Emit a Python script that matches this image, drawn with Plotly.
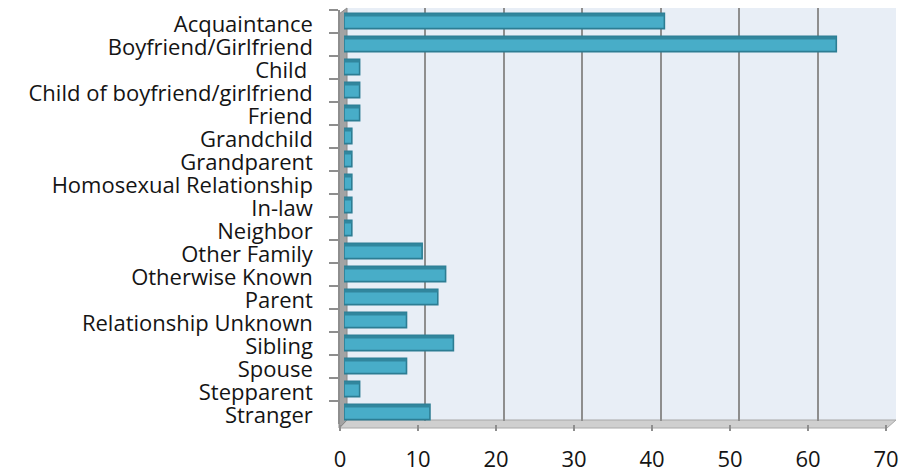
import plotly.graph_objects as go

categories = ["Acquaintance", "Boyfriend/Girlfriend", "Child ", "Child of boyfriend/girlfriend",
              "Friend", "Grandchild", "Grandparent", "Homosexual Relationship", "In-law",
              "Neighbor", "Other Family", "Otherwise Known", "Parent", "Relationship Unknown",
              "Sibling", "Spouse", "Stepparent", "Stranger"]
values = [41, 63, 2, 2, 2, 1, 1, 1, 1, 1, 10, 13, 12, 8, 14, 8, 2, 11]
x_ticks = [0, 10, 20, 30, 40, 50, 60, 70]

W, H = 903, 472
def px(x): return x / W
def py(y): return 1 - y / H

FONT = "Open Sans"
TXT = "#141414"
n = len(categories)
cat_range = [n - 0.5, -0.5]   # reversed: first category on top
fig = go.Figure()

# subplot 1: back wall gridlines
fig.add_trace(go.Scatter(x=values, y=categories, mode="markers", marker=dict(opacity=0),
                         hoverinfo="skip", showlegend=False, xaxis="x", yaxis="y"))
# subplot 2: front axes with labels
fig.add_trace(go.Scatter(x=values, y=categories, mode="markers", marker=dict(opacity=0),
                         hoverinfo="skip", showlegend=False, xaxis="x2", yaxis="y2"))
# subplot 3: bars
fig.add_trace(go.Bar(x=values, y=categories, orientation="h", width=0.66,
                     marker=dict(color="#48adc8", line=dict(color="#2c7d93", width=1.6)),
                     showlegend=False, xaxis="x3", yaxis="y3"))
fig.add_trace(go.Bar(x=values, y=categories, orientation="h", width=0.13, offset=-0.33,
                     marker=dict(color="#31869d", line=dict(width=0)),
                     showlegend=False, xaxis="x3", yaxis="y3"))

grid_x_dom = [px(347), px(896)]
grid_y_dom = [py(421), py(8)]
front_x_dom = [px(340), px(886)]
rows_y_dom = [py(423.5), py(9.5)]
bar_x_dom = [px(344), px(891)]

shapes = [
    # back wall
    dict(type="rect", xref="paper", yref="paper", x0=px(347), x1=px(896), y0=py(421), y1=py(8),
         fillcolor="#e8eef6", line=dict(width=0), layer="below"),
    # floor
    dict(type="path", xref="paper", yref="paper",
         path=f"M {px(340)},{py(428)} L {px(347)},{py(420)} L {px(896)},{py(420)} L {px(887)},{py(428)} Z",
         fillcolor="#cfcfcf", line=dict(color="#a8a8a8", width=1), layer="below"),
    # left wall
    dict(type="path", xref="paper", yref="paper",
         path=f"M {px(339)},{py(14)} L {px(347)},{py(8)} L {px(347)},{py(420)} L {px(339)},{py(428)} Z",
         fillcolor="#a3a3a3", line=dict(color="#8a8a8a", width=1), layer="below"),
]

fig.update_layout(
    width=W, height=H, autosize=False,
    margin=dict(l=0, r=0, t=0, b=0, pad=0, autoexpand=False),
    paper_bgcolor="white",
    plot_bgcolor="rgba(0,0,0,0)",
    barmode="overlay",
    font=dict(family=FONT, size=22, color=TXT),
    shapes=shapes,
    xaxis=dict(domain=grid_x_dom, range=[0, 70], tickvals=x_ticks[1:], showticklabels=False,
               showgrid=True, gridcolor="#8e8e8e", gridwidth=2, zeroline=False, showline=False,
               anchor="y", fixedrange=True, automargin=False),
    yaxis=dict(domain=grid_y_dom, type="category", categoryarray=categories, categoryorder="array",
               range=cat_range, showticklabels=False, showgrid=False, zeroline=False,
               showline=False, anchor="x", automargin=False),
    xaxis2=dict(domain=front_x_dom, range=[0, 70], tickmode="array", tickvals=x_ticks,
                showgrid=False, zeroline=False, automargin=False,
                showline=False, ticks="outside", ticklen=6, tickwidth=1.5, tickcolor="#8e8e8e",
                ticklabelstandoff=10, tickfont=dict(family=FONT, size=22, color=TXT), anchor="y2"),
    yaxis2=dict(domain=rows_y_dom, type="category", categoryarray=categories, categoryorder="array",
                tickmode="linear", tick0=0, dtick=1, automargin=False, range=cat_range,
                showgrid=False, zeroline=False, showline=True,
                linecolor="#8e8e8e", linewidth=1.5, ticks="outside", ticklen=9, tickwidth=1.5,
                tickcolor="#8e8e8e", tickson="boundaries", ticklabelstandoff=21,
                ticklabelshift=-3,
                tickfont=dict(family=FONT, size=22, color=TXT), anchor="x2"),
    xaxis3=dict(domain=bar_x_dom, range=[0, 70], showgrid=False, zeroline=False, showline=False,
                showticklabels=False, anchor="y3", automargin=False),
    yaxis3=dict(domain=rows_y_dom, type="category", categoryarray=categories, categoryorder="array",
                range=cat_range, showgrid=False, zeroline=False, showline=False,
                showticklabels=False, anchor="x3", automargin=False),
)

fig.write_html("out.html", config={"displayModeBar": False},
               post_script="document.body.style.margin='0';document.body.style.overflow='hidden';")
